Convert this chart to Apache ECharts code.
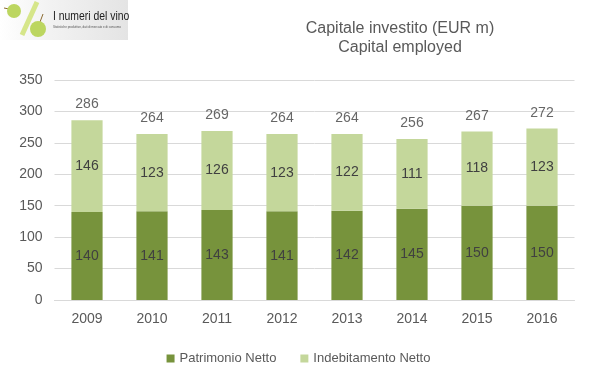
<!DOCTYPE html>
<html><head><meta charset="utf-8">
<script src="https://cdn.jsdelivr.net/npm/echarts@6/dist/echarts.min.js"></script>
<style>html,body{margin:0;padding:0;background:#fff}#c{width:597px;height:380px}</style>
</head><body><div id="c"></div>
<script>
const years = ['2009','2010','2011','2012','2013','2014','2015','2016'];
const patrimonio = [140,141,143,141,142,145,150,150];
const indebitamento = [146,123,126,123,122,111,118,123];
const totals = [286,264,269,264,264,256,267,272];
const yTicks = {min:0, max:350, interval:50};

const font = 'Liberation Sans';
const txt = '#595959';
const chart = echarts.init(document.getElementById('c'));
chart.setOption({
  animation:false,
  textStyle:{fontFamily:font},
  title:{
    text:'Capitale investito (EUR m)\nCapital employed',
    left:395, top:14, textAlign:'center',
    textStyle:{fontFamily:font,fontSize:16,fontWeight:'normal',color:txt,lineHeight:19}
  },
  graphic:[
    {type:'rect',x:0,y:0,shape:{width:128,height:40},style:{fill:new echarts.graphic.LinearGradient(0,0,1,0,[{offset:0,color:'#ffffff'},{offset:0.4,color:'#f2f2f2'},{offset:1,color:'#e4e4e4'}])}},
    {type:'line',shape:{x1:22,y1:35,x2:37,y2:2},style:{stroke:'#d6e68a',lineWidth:5}},
    {type:'line',shape:{x1:4,y1:8,x2:9,y2:9},style:{stroke:'#8a6a30',lineWidth:1}},
    {type:'line',shape:{x1:40,y1:22,x2:43,y2:14},style:{stroke:'#8a6a30',lineWidth:1}},
    {type:'circle',shape:{cx:14,cy:11,r:7},style:{fill:'#bcd660'}},
    {type:'circle',shape:{cx:38,cy:29,r:8},style:{fill:'#bcd660'}},
    {type:'text',x:53,y:10,scaleX:0.8,style:{text:'I numeri del vino',font:'13px '+font,fill:'#222'}},
    {type:'text',x:53,y:26,style:{text:'Statistiche produttive, dati di mercato e di consumo',font:'3px '+font,fill:'#555'}}
  ],
  grid:{left:54.5,right:22.5,top:80,bottom:80},
  legend:{
    bottom:10,left:'center',itemWidth:8,itemHeight:8,itemGap:24,icon:'rect',
    data:['Patrimonio Netto','Indebitamento Netto'],
    textStyle:{fontFamily:font,fontSize:13,color:txt}
  },
  xAxis:{type:'category',data:years,
    axisLine:{lineStyle:{color:'#D9D9D9'}},axisTick:{show:false},
    axisLabel:{color:txt,fontSize:14,margin:12}},
  yAxis:{type:'value',min:yTicks.min,max:yTicks.max,interval:yTicks.interval,
    axisLine:{show:false},axisTick:{show:false},
    splitLine:{lineStyle:{color:'#D9D9D9'}},
    axisLabel:{color:txt,fontSize:14,margin:12}},
  series:[
    {name:'Patrimonio Netto',type:'bar',stack:'a',data:patrimonio,barWidth:'48%',
     itemStyle:{color:'#77933C'},
     label:{show:true,position:'inside',color:'#404040',fontSize:14,fontFamily:font}},
    {name:'Indebitamento Netto',type:'bar',stack:'a',data:indebitamento,
     itemStyle:{color:'#C4D79B'},
     label:{show:true,position:'inside',color:'#404040',fontSize:14,fontFamily:font}},
    {name:'Totale',type:'scatter',data:totals,symbolSize:2,silent:true,
     itemStyle:{color:'rgba(0,0,0,0)'},
     label:{show:true,position:'top',distance:8,color:'#404040',fontSize:14,fontFamily:font}}
  ]
});
</script></body></html>
